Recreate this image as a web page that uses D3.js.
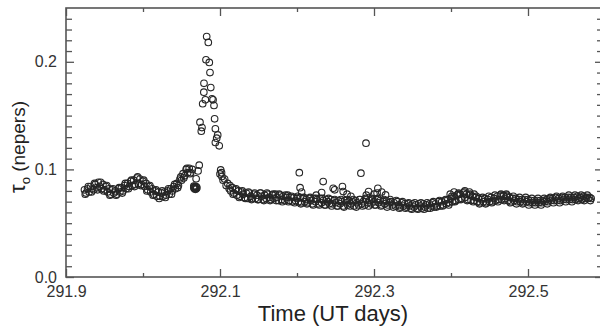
<!DOCTYPE html>
<html>
<head>
<meta charset="utf-8">
<script src="https://cdn.jsdelivr.net/npm/d3@7"></script>
<style>
  body { margin: 0; background: #fff; }
  svg { display: block; font-family: "Liberation Sans", Arial, sans-serif; }
</style>
</head>
<body>
<div id="myPlot"></div>
<script>
// Set Dimensions
const xSize = 600;
const ySize = 328;
const plotLeft = 66;
const plotRight = 603;
const plotTop = 8;
const plotBottom = 277;

// tau before the spike (time in UT days, tau in nepers)
const preSpike = [
  [291.924,0.081],[291.926,0.078],[291.928,0.082],[291.930,0.079],[291.932,0.084],[291.934,0.082],
  [291.936,0.081],[291.938,0.086],[291.940,0.083],[291.942,0.088],[291.944,0.084],[291.946,0.082],
  [291.948,0.086],[291.950,0.081],[291.952,0.084],[291.954,0.079],[291.956,0.082],[291.958,0.077],
  [291.960,0.081],[291.962,0.078],[291.964,0.080],[291.966,0.077],[291.968,0.082],[291.970,0.079],
  [291.972,0.083],[291.974,0.080],[291.976,0.085],[291.978,0.082],[291.980,0.087],[291.982,0.084],
  [291.984,0.089],[291.986,0.085],[291.988,0.090],[291.990,0.086],[291.992,0.092],[291.994,0.087],
  [291.996,0.091],[291.998,0.086],[292.000,0.089],[292.002,0.084],[292.004,0.087],[292.006,0.081],
  [292.008,0.084],[292.010,0.079],[292.012,0.082],[292.014,0.077],[292.016,0.080],[292.018,0.075],
  [292.020,0.079],[292.022,0.075],[292.024,0.078],[292.026,0.075],[292.028,0.079],[292.030,0.076],
  [292.032,0.080],[292.034,0.077],[292.036,0.082],[292.038,0.080],[292.040,0.084],[292.042,0.082],
  [292.044,0.087],[292.046,0.085],[292.048,0.091],[292.050,0.090],[292.052,0.096],[292.054,0.094],
  [292.056,0.100],[292.058,0.097],[292.060,0.101],[292.062,0.097],[292.064,0.100]
];

// second set of samples, same stretch
const preSpikeB = [
  [291.925,0.077],[291.929,0.084],[291.933,0.079],[291.937,0.087],[291.941,0.081],[291.945,0.088],
  [291.949,0.080],[291.953,0.085],[291.957,0.076],[291.961,0.082],[291.965,0.076],[291.969,0.083],
  [291.973,0.078],[291.977,0.087],[291.981,0.082],[291.985,0.090],[291.989,0.084],[291.993,0.093],
  [291.997,0.085],[292.001,0.090],[292.005,0.080],[292.009,0.085],[292.013,0.076],[292.017,0.081],
  [292.021,0.073],[292.025,0.080],[292.029,0.074],[292.033,0.082],[292.037,0.077],[292.041,0.086],
  [292.045,0.083],[292.049,0.093],[292.053,0.092],[292.057,0.101],[292.061,0.096]
];

// dark cluster and the rise into the spike
const cluster = [
  [292.066,0.083],[292.067,0.084],[292.067,0.082],[292.068,0.083],[292.069,0.084],[292.069,0.082],
  [292.070,0.083],[292.068,0.0815],[292.066,0.0845],
  [292.069,0.0912],[292.0715,0.0986],[292.073,0.1039]
];

// the spike
const spike = [
  [292.0827,0.2235],[292.0848,0.218],[292.0818,0.2019],[292.0861,0.1994],[292.087,0.190],
  [292.0792,0.180],[292.088,0.176],[292.079,0.1718],[292.081,0.1647],[292.0896,0.1656],
  [292.0775,0.161],[292.091,0.1647],[292.0922,0.1594],[292.093,0.147],[292.074,0.1439],
  [292.0766,0.1389],[292.0757,0.1355],[292.094,0.1377],[292.097,0.132],[292.0957,0.129],
  [292.094,0.125],[292.099,0.1219],[292.1009,0.0995],[292.100,0.0958],[292.1025,0.0933]
];

// tau after the spike
const postSpike = [
  [292.102,0.097],[292.104,0.090],[292.106,0.091],[292.108,0.085],[292.110,0.087],[292.112,0.082],
  [292.114,0.080],[292.116,0.083],[292.118,0.078],[292.120,0.081],[292.122,0.076],[292.124,0.080],
  [292.126,0.075],[292.128,0.079],[292.130,0.077],[292.132,0.074],[292.134,0.078],[292.136,0.073],
  [292.138,0.078],[292.140,0.075],[292.142,0.073],[292.144,0.077],[292.146,0.073],[292.148,0.076],
  [292.150,0.072],[292.152,0.078],[292.154,0.075],[292.156,0.072],[292.158,0.076],[292.160,0.073],
  [292.162,0.077],[292.164,0.074],[292.166,0.072],[292.168,0.076],[292.170,0.073],[292.172,0.077],
  [292.174,0.074],[292.176,0.071],[292.178,0.076],[292.180,0.072],[292.182,0.075],[292.184,0.071],
  [292.186,0.074],[292.188,0.076],[292.190,0.071],[292.192,0.074],[292.194,0.070],[292.196,0.074],
  [292.198,0.071],[292.200,0.073],[292.202,0.070],[292.204,0.074],[292.206,0.069],[292.208,0.073],
  [292.210,0.070],[292.212,0.072],[292.214,0.069],[292.216,0.073],[292.218,0.071],[292.220,0.068],
  [292.222,0.073],[292.224,0.070],[292.226,0.072],[292.228,0.068],[292.230,0.073],[292.232,0.069],
  [292.234,0.071],[292.236,0.067],[292.238,0.072],[292.240,0.070],[292.242,0.068],[292.244,0.072],
  [292.246,0.068],[292.248,0.071],[292.250,0.069],[292.252,0.066],[292.254,0.071],[292.256,0.068],
  [292.258,0.070],[292.260,0.066],[292.262,0.071],[292.264,0.069],[292.266,0.067],[292.268,0.071],
  [292.270,0.068],[292.272,0.070],[292.274,0.066],[292.276,0.071],[292.278,0.069],[292.280,0.067],
  [292.282,0.072],[292.284,0.068],[292.286,0.070],[292.288,0.067],[292.290,0.072],[292.292,0.069],
  [292.294,0.071],[292.296,0.068],[292.298,0.072],[292.300,0.070],[292.302,0.067],[292.304,0.072],
  [292.306,0.069],[292.308,0.071],[292.310,0.067],[292.312,0.070],[292.314,0.068],[292.316,0.071],
  [292.318,0.067],[292.320,0.069],[292.322,0.070],[292.324,0.067],[292.326,0.069],[292.328,0.066],
  [292.330,0.070],[292.332,0.067],[292.334,0.065],[292.336,0.069],[292.338,0.066],[292.340,0.068],
  [292.342,0.065],[292.344,0.068],[292.346,0.066],[292.348,0.064],[292.350,0.068],[292.352,0.065],
  [292.354,0.067],[292.356,0.064],[292.358,0.068],[292.360,0.066],[292.362,0.064],[292.364,0.068],
  [292.366,0.065],[292.368,0.067],[292.370,0.064],[292.372,0.068],[292.374,0.066],[292.376,0.069],
  [292.378,0.065],[292.380,0.068],[292.382,0.066],[292.384,0.070],[292.386,0.066],[292.388,0.070],
  [292.390,0.067],[292.392,0.071],[292.394,0.068],[292.396,0.072],[292.398,0.069],[292.400,0.073],
  [292.402,0.070],[292.404,0.075],[292.406,0.071],[292.408,0.076],[292.410,0.072],[292.412,0.077],
  [292.414,0.073],[292.416,0.078],[292.418,0.074],[292.420,0.077],[292.422,0.072],[292.424,0.076],
  [292.426,0.071],[292.428,0.075],[292.430,0.071],[292.432,0.074],[292.434,0.070],[292.436,0.073],
  [292.438,0.069],[292.440,0.072],[292.442,0.070],[292.444,0.073],[292.446,0.069],[292.448,0.072],
  [292.450,0.070],[292.452,0.074],[292.454,0.070],[292.456,0.073],[292.458,0.071],[292.460,0.075],
  [292.462,0.072],[292.464,0.076],[292.466,0.072],[292.468,0.075],[292.470,0.073],[292.472,0.075],
  [292.474,0.071],[292.476,0.074],[292.478,0.070],[292.480,0.073],[292.482,0.071],[292.484,0.073],
  [292.486,0.070],[292.488,0.072],[292.490,0.070],[292.492,0.072],[292.494,0.069],[292.496,0.072],
  [292.498,0.070],[292.500,0.072],[292.502,0.069],[292.504,0.071],[292.506,0.069],[292.508,0.071],
  [292.510,0.069],[292.512,0.071],[292.514,0.069],[292.516,0.071],[292.518,0.069],[292.520,0.071],
  [292.522,0.070],[292.524,0.072],[292.526,0.070],[292.528,0.073],[292.530,0.071],[292.532,0.073],
  [292.534,0.071],[292.536,0.074],[292.538,0.071],[292.540,0.073],[292.542,0.071],[292.544,0.074],
  [292.546,0.072],[292.548,0.074],[292.550,0.072],[292.552,0.074],[292.554,0.072],[292.556,0.074],
  [292.558,0.072],[292.560,0.074],[292.562,0.072],[292.564,0.075],[292.566,0.073],[292.568,0.074],
  [292.570,0.072],[292.572,0.075],[292.574,0.073],[292.576,0.074],[292.578,0.073],[292.580,0.074],
  [292.582,0.073]
];

// second set of samples, same stretch
const postSpikeB = [
  [292.113,0.085],[292.117,0.077],[292.121,0.082],[292.125,0.074],[292.129,0.080],[292.133,0.073],
  [292.137,0.079],[292.141,0.072],[292.145,0.078],[292.149,0.072],[292.153,0.078],[292.157,0.071],
  [292.161,0.078],[292.165,0.071],[292.169,0.077],[292.173,0.071],[292.177,0.077],[292.181,0.070],
  [292.185,0.076],[292.189,0.070],[292.193,0.075],[292.197,0.069],[292.201,0.075],[292.205,0.068],
  [292.209,0.074],[292.213,0.068],[292.217,0.074],[292.221,0.067],[292.225,0.073],[292.229,0.067],
  [292.233,0.073],[292.237,0.067],[292.241,0.073],[292.245,0.066],[292.249,0.072],[292.253,0.066],
  [292.257,0.072],[292.261,0.065],[292.265,0.072],[292.269,0.066],[292.273,0.072],[292.277,0.065],
  [292.281,0.072],[292.285,0.066],[292.289,0.073],[292.293,0.066],[292.297,0.073],[292.301,0.067],
  [292.305,0.073],[292.309,0.066],[292.313,0.072],[292.317,0.065],[292.321,0.072],[292.325,0.065],
  [292.329,0.071],[292.333,0.064],[292.337,0.070],[292.341,0.064],[292.345,0.069],[292.349,0.063],
  [292.353,0.069],[292.357,0.063],[292.361,0.069],[292.365,0.063],[292.369,0.069],[292.373,0.064],
  [292.377,0.070],[292.381,0.065],[292.385,0.071],[292.389,0.066],[292.393,0.072],[292.397,0.067],
  [292.401,0.075],[292.405,0.070],[292.409,0.077],[292.413,0.072],[292.417,0.079],[292.421,0.071],
  [292.425,0.077],[292.429,0.070],[292.433,0.075],[292.437,0.068],[292.441,0.074],[292.445,0.068],
  [292.449,0.075],[292.453,0.069],[292.457,0.076],[292.461,0.070],[292.465,0.077],[292.469,0.071],
  [292.473,0.076],[292.477,0.069],[292.481,0.075],[292.485,0.068],[292.489,0.074],[292.493,0.068],
  [292.497,0.074],[292.501,0.067],[292.505,0.073],[292.509,0.067],[292.513,0.073],[292.517,0.067],
  [292.521,0.073],[292.525,0.068],[292.529,0.074],[292.533,0.069],[292.537,0.075],[292.541,0.069],
  [292.545,0.075],[292.549,0.070],[292.553,0.076],[292.557,0.070],[292.561,0.076],[292.565,0.071],
  [292.569,0.076],[292.573,0.071],[292.577,0.076],[292.581,0.071]
];

// scattered points above the band
const outliers = [
  [292.203,0.097],[292.204,0.083],[292.206,0.079],[292.234,0.0887],[292.232,0.0785],[292.247,0.0825],
  [292.249,0.081],[292.259,0.084],[292.260,0.0794],[292.283,0.0965],[292.2896,0.1244],[292.293,0.0794],
  [292.305,0.0825],[292.304,0.078],[292.315,0.0763],[292.270,0.075],[292.290,0.076],[292.310,0.079],
  [292.300,0.077],[292.225,0.076],[292.265,0.077],[292.399,0.077],[292.404,0.079],[292.410,0.078],
  [292.418,0.080],[292.424,0.079],[292.430,0.077],[292.468,0.076],[292.472,0.077]
];

const xMajor = [291.9, 292.1, 292.3, 292.5];
const xMinor = [292.0, 292.2, 292.4];
const yMajor = [0.0, 0.1, 0.2];
const yMinor = [0.01,0.02,0.03,0.04,0.05,0.06,0.07,0.08,0.09,0.11,0.12,0.13,0.14,0.15,0.16,0.17,0.18,0.19,0.21,0.22,0.23,0.24];

const xTitle = "Time  (UT days)";

const svg = d3.select("#myPlot")
  .append("svg")
  .attr("width", xSize)
  .attr("height", ySize);

const x = d3.scaleLinear()
  .domain([291.9, 291.9 + (plotRight - plotLeft) / 770])
  .range([plotLeft, plotRight]);

const y = d3.scaleLinear()
  .domain([0, 0.25])
  .range([plotBottom, plotTop]);

function styleAxis(g) {
  g.select(".domain").remove();
  g.selectAll(".tick line").attr("stroke", "#555").attr("stroke-width", 1.3);
  g.selectAll(".tick text")
    .attr("fill", "#333")
    .style("font-size", "16px")
    .style("font-family", "'Liberation Sans', Arial, sans-serif");
}

// Bottom axis
svg.append("g").attr("transform", "translate(0," + plotBottom + ")")
  .call(d3.axisBottom(x).tickValues(xMinor).tickSize(-4).tickFormat(""))
  .call(styleAxis);
svg.append("g").attr("transform", "translate(0," + plotBottom + ")")
  .call(d3.axisBottom(x).tickValues(xMajor).tickSize(-8).tickPadding(9).tickFormat(d3.format(".1f")))
  .call(styleAxis);

// Top axis (mirror)
svg.append("g").attr("transform", "translate(0," + plotTop + ")")
  .call(d3.axisTop(x).tickValues(xMinor).tickSize(-4).tickFormat(""))
  .call(styleAxis);
svg.append("g").attr("transform", "translate(0," + plotTop + ")")
  .call(d3.axisTop(x).tickValues(xMajor).tickSize(-8).tickFormat(""))
  .call(styleAxis);

// Left axis
svg.append("g").attr("transform", "translate(" + plotLeft + ",0)")
  .call(d3.axisLeft(y).tickValues(yMinor).tickSize(-6).tickFormat(""))
  .call(styleAxis);
svg.append("g").attr("transform", "translate(" + plotLeft + ",0)")
  .call(d3.axisLeft(y).tickValues(yMajor).tickSize(-8).tickPadding(9).tickFormat(d3.format(".1f")))
  .call(styleAxis);

// Right axis (mirror)
svg.append("g").attr("transform", "translate(" + plotRight + ",0)")
  .call(d3.axisRight(y).tickValues(yMinor).tickSize(-6).tickFormat(""))
  .call(styleAxis);
svg.append("g").attr("transform", "translate(" + plotRight + ",0)")
  .call(d3.axisRight(y).tickValues(yMajor).tickSize(-8).tickFormat(""))
  .call(styleAxis);

// Frame
svg.append("rect")
  .attr("x", plotLeft)
  .attr("y", plotTop)
  .attr("width", plotRight - plotLeft)
  .attr("height", plotBottom - plotTop)
  .attr("fill", "none")
  .attr("stroke", "#555")
  .attr("stroke-width", 1.6);

// Dots
const allPoints = preSpike.concat(preSpikeB, cluster, spike, postSpike, postSpikeB, outliers);
svg.append("g")
  .selectAll("circle")
  .data(allPoints).enter()
  .append("circle")
  .attr("cx", function (d) { return x(d[0]) })
  .attr("cy", function (d) { return y(d[1]) })
  .attr("r", 3.3)
  .attr("fill", "none")
  .attr("stroke", "#262626")
  .attr("stroke-width", 1.1);

// X title
svg.append("text")
  .attr("x", 333)
  .attr("y", 321)
  .attr("text-anchor", "middle")
  .attr("fill", "#222")
  .style("font-size", "22px")
  .text(xTitle);

// Y title: tau with subscript o
const yt = svg.append("text")
  .attr("transform", "translate(25,193) rotate(-90)")
  .attr("text-anchor", "start")
  .attr("fill", "#222")
  .style("font-size", "19px");
yt.append("tspan").style("font-size", "22px").text("τ");
yt.append("tspan").attr("dy", 5).style("font-size", "13px").text("o");
yt.append("tspan").attr("dy", -5).text(" (nepers)");
</script>
</body>
</html>
